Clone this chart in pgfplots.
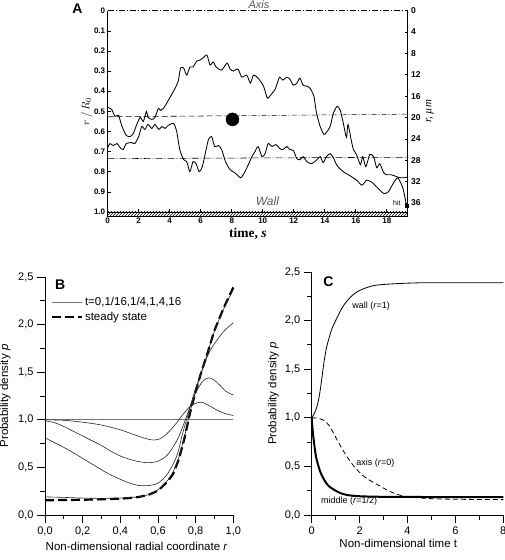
\documentclass[border=0pt]{standalone}
\usepackage{fontspec}
\setmainfont{Liberation Sans}
\newfontfamily\serif{Liberation Serif}
\usepackage{pgfplots}
\pgfplotsset{compat=1.18}
\usetikzlibrary{patterns}
\begin{document}
\begin{tikzpicture}[x=1pt,y=1pt]
\useasboundingbox (0,0) rectangle (505,560);
% ---------------- Panel A ----------------
\begin{axis}[
  at={(107.7pt,348pt)}, anchor=south west,
  scale only axis, width=300pt, height=201.3pt,
  xmin=0, xmax=19.35, ymin=0, ymax=1, y dir=reverse,
  clip=false,
  axis line style={draw=none},
  xtick pos=left, ytick pos=left,
  tick align=inside, major tick length=3pt,
  tick style={black, line width=0.6pt},
  xtick={0,2,4,6,8,10,12,14,16,18},
  ytick={0,0.1,0.2,0.3,0.4,0.5,0.6,0.7,0.8,0.9,1.0},
  yticklabels={0,0.1,0.2,0.3,0.4,0.5,0.6,0.7,0.8,0.9,1.0},
  tick label style={font=\fontsize{8}{9}\selectfont\bfseries},
  /pgf/number format/assume math mode=true,
  xticklabel style={yshift=-2pt},
  yticklabel style={xshift=1pt},
  ylabel={$r\,/\,R_0$},
  ylabel style={at={(axis description cs:-0.07,0.5)}, anchor=center, font=\fontsize{11}{12}\selectfont},
  xlabel={\serif\bfseries time, \itshape s},
  xlabel style={at={(axis description cs:0.467,-0.108)}, anchor=center, font=\fontsize{13.5}{14}\selectfont},
]
% frame
\draw[line width=0.8pt] (axis cs:0,0) -- (axis cs:0,1);
\draw[line width=0.7pt, pattern=north east lines] (axis cs:0,1) rectangle (axis cs:19.35,1.02);
% reference lines
\addplot[black, line width=0.5pt, dash pattern=on 6pt off 2pt on 1pt off 2pt] coordinates {(0,0) (19.35,0)};
\addplot[black, line width=0.55pt, dash pattern=on 6pt off 3pt] coordinates {(0,0.527) (8.0,0.522)};
\addplot[black, line width=0.5pt, dash pattern=on 5pt off 2pt on 1pt off 2pt] coordinates {(8.0,0.522) (19.35,0.514)};
\addplot[black, line width=0.55pt, dash pattern=on 7pt off 2pt on 1pt off 2pt] coordinates {(0,0.735) (19.35,0.728)};
% trace 1
\addplot[black, line width=0.85pt, smooth, tension=0.4] coordinates {
(0,0.48)(0.25,0.49)(0.47,0.525)(0.7,0.52)(0.9,0.57)(1.2,0.62)(1.45,0.625)(1.65,0.61)(1.9,0.56)(2.1,0.53)(2.3,0.55)(2.5,0.50)(2.6,0.53)(2.85,0.54)(3.05,0.53)(3.27,0.485)(3.4,0.495)(3.6,0.485)(3.8,0.46)(4.1,0.42)(4.35,0.385)(4.55,0.35)(4.7,0.285)(4.9,0.285)(5.1,0.32)(5.3,0.28)(5.5,0.28)(5.75,0.25)(5.95,0.245)(6.15,0.235)(6.4,0.22)(6.6,0.27)(6.8,0.255)(7.0,0.28)(7.35,0.295)(7.7,0.26)(7.9,0.29)(8.1,0.30)(8.4,0.29)(8.65,0.33)(8.97,0.32)(9.2,0.36)(9.4,0.32)(9.7,0.335)(10.05,0.375)(10.3,0.435)(10.5,0.42)(10.8,0.39)(11.0,0.345)(11.1,0.33)(11.3,0.345)(11.55,0.33)(11.75,0.34)(11.98,0.37)(12.2,0.36)(12.4,0.335)(12.6,0.37)(12.85,0.375)(13.05,0.385)(13.3,0.425)(13.45,0.50)(13.7,0.575)(13.95,0.615)(14.1,0.605)(14.35,0.575)(14.55,0.51)(14.8,0.475)(15.0,0.495)(15.2,0.56)(15.4,0.63)(15.5,0.565)(15.7,0.64)(15.85,0.69)(16.05,0.715)(16.3,0.765)(16.45,0.725)(16.65,0.775)(16.9,0.715)(17.15,0.725)(17.35,0.78)(17.55,0.76)(17.8,0.805)(18.0,0.815)(18.3,0.815)(18.65,0.825)(18.9,0.83)(19.1,0.83)(19.35,0.826)};
% trace 2
\addplot[black, line width=0.85pt, smooth, tension=0.4] coordinates {
(0,0.68)(0.15,0.66)(0.35,0.67)(0.6,0.66)(0.8,0.68)(1.0,0.69)(1.2,0.66)(1.55,0.655)(1.75,0.66)(2.0,0.625)(2.2,0.575)(2.4,0.59)(2.6,0.565)(2.85,0.585)(3.05,0.565)(3.3,0.59)(3.5,0.575)(3.7,0.585)(3.9,0.57)(4.25,0.56)(4.45,0.60)(4.65,0.69)(4.9,0.74)(5.1,0.75)(5.3,0.80)(5.5,0.75)(5.7,0.76)(5.9,0.80)(6.1,0.775)(6.35,0.69)(6.5,0.64)(6.7,0.625)(6.9,0.675)(7.15,0.67)(7.35,0.69)(7.6,0.75)(7.9,0.79)(8.2,0.805)(8.55,0.83)(8.7,0.82)(8.85,0.80)(9.1,0.76)(9.3,0.725)(9.5,0.70)(9.7,0.675)(9.95,0.725)(10.15,0.71)(10.35,0.66)(10.6,0.675)(10.85,0.665)(11.1,0.685)(11.3,0.69)(11.55,0.675)(11.75,0.69)(11.98,0.695)(12.2,0.735)(12.4,0.74)(12.6,0.725)(12.85,0.75)(13.15,0.76)(13.5,0.74)(13.7,0.725)(13.9,0.755)(14.1,0.725)(14.35,0.71)(14.55,0.73)(14.8,0.77)(15.2,0.80)(15.63,0.82)(16.06,0.842)(16.4,0.867)(16.7,0.842)(17.0,0.85)(17.35,0.875)(17.8,0.908)(18.1,0.90)(18.4,0.86)(18.7,0.83)(18.97,0.867)(19.1,0.9)(19.25,0.958)};
% particle
\addplot[only marks, mark=*, mark size=6.5pt, black] coordinates {(8.05,0.54)};
\addplot[only marks, mark=square*, mark size=1.5pt, black] coordinates {(19.28,0.968)};
\node[font=\fontsize{7}{8}\selectfont] at (axis cs:18.65,0.955) {hit};
\node[font=\fontsize{11}{12}\selectfont\itshape, text=black!65] at (axis cs:9.76,-0.03) {Axis};
\node[font=\fontsize{12}{13}\selectfont\itshape, text=black!65] at (axis cs:10.3,0.945) {Wall};
\node[font=\fontsize{14}{15}\selectfont\bfseries] at (axis cs:-1.95,-0.01) {A};
\end{axis}
\begin{axis}[
  at={(107.7pt,348pt)}, anchor=south west,
  scale only axis, width=300pt, height=201.3pt,
  xmin=0, xmax=19.35, ymin=0, ymax=37.7, y dir=reverse,
  axis x line=none, axis y line*=right,
  axis line style={-, line width=0.8pt},
  tick align=inside, major tick length=3pt,
  tick style={black, line width=0.6pt},
  ytick={0,4,8,12,16,20,24,28,32,36},
  tick label style={font=\fontsize{8.5}{9}\selectfont\bfseries},
  /pgf/number format/assume math mode=true,
  ylabel={\serif\itshape r, µm},
  ylabel style={at={(axis description cs:1.074,0.5)}, anchor=center, rotate=0, font=\fontsize{11}{12}\selectfont},
]
\addplot[draw=none] coordinates {(0,0)};
\end{axis}
% ---------------- Panel B ----------------
\begin{axis}[
  at={(45pt,45pt)}, anchor=south west,
  scale only axis, width=188.3pt, height=238pt,
  xmin=0, xmax=1, ymin=0, ymax=2.5,
  clip=false,
  axis x line=bottom, axis y line=left,
  axis line style={-, line width=0.9pt},
  tick align=outside, major tick length=8pt, minor tick length=4.5pt,
  tick style={black, line width=0.9pt},
  xtick={0,0.2,0.4,0.6,0.8,1.0}, minor x tick num=1,
  ytick={0,0.5,1.0,1.5,2.0,2.5}, minor y tick num=1,
  /pgf/number format/.cd, use comma, fixed, fixed zerofill, precision=1, assume math mode=true,
  /pgfplots/.cd,
  tick label style={font=\fontsize{11}{12}\selectfont},
  ylabel={Probability density \textit{p}},
  ylabel style={at={(axis description cs:-0.212,0.5)}, anchor=center, font=\fontsize{11.5}{12}\selectfont},
  xlabel={Non-dimensional radial coordinate \textit{r}},
  xlabel style={at={(axis description cs:0.487,-0.133)}, anchor=center, font=\fontsize{11.5}{12}\selectfont},
  legend style={at={(axis description cs:0.03,0.925)}, anchor=north west, draw=none, fill=none,
    font=\fontsize{11.5}{13}\selectfont, inner sep=0pt, row sep=1pt},
  legend cell align=left,
  legend image code/.code={\draw[#1] (0pt,0pt) -- (30pt,0pt);},
]
\addplot[black!55, line width=0.7pt] coordinates {(0,1) (1,1)};
\addlegendentry{t=0,1/16,1/4,1,4,16}
\addplot[black, line width=2.2pt, dash pattern=on 9pt off 4pt] coordinates {
(0,0.155)(0.1,0.157)(0.2,0.16)(0.3,0.165)(0.4,0.172)(0.45,0.178)(0.5,0.19)(0.55,0.212)(0.6,0.255)(0.65,0.35)(0.68,0.43)(0.71,0.58)(0.74,0.8)(0.77,1.07)(0.8,1.3)(0.83,1.5)(0.86,1.68)(0.9,1.94)(0.95,2.18)(1.0,2.39)};
\addlegendentry{steady state}
\addplot[black!85, line width=0.6pt, smooth, forget plot] coordinates {
(0,1.0)(0.1,0.995)(0.2,0.975)(0.3,0.945)(0.4,0.895)(0.45,0.86)(0.5,0.825)(0.55,0.795)(0.58,0.788)(0.61,0.80)(0.64,0.84)(0.67,0.90)(0.7,0.97)(0.73,1.05)(0.76,1.12)(0.78,1.155)(0.81,1.18)(0.83,1.185)(0.85,1.17)(0.88,1.14)(0.91,1.105)(0.95,1.07)(1.0,1.045)};
\addplot[black!85, line width=0.6pt, smooth, forget plot] coordinates {
(0,0.99)(0.05,0.97)(0.1,0.93)(0.15,0.88)(0.2,0.83)(0.25,0.78)(0.3,0.73)(0.35,0.67)(0.4,0.62)(0.45,0.585)(0.5,0.56)(0.55,0.55)(0.6,0.565)(0.65,0.63)(0.7,0.78)(0.73,0.92)(0.76,1.08)(0.78,1.19)(0.81,1.32)(0.84,1.41)(0.87,1.44)(0.9,1.415)(0.93,1.36)(0.96,1.3)(1.0,1.26)};
\addplot[black!85, line width=0.6pt, smooth, forget plot] coordinates {
(0,0.81)(0.05,0.76)(0.1,0.71)(0.15,0.655)(0.2,0.595)(0.25,0.535)(0.3,0.475)(0.35,0.42)(0.4,0.375)(0.45,0.335)(0.5,0.31)(0.55,0.31)(0.6,0.335)(0.65,0.43)(0.7,0.62)(0.73,0.85)(0.76,1.06)(0.78,1.2)(0.8,1.33)(0.84,1.55)(0.87,1.7)(0.9,1.8)(0.95,1.93)(1.0,2.02)};
\addplot[black!85, line width=0.6pt, smooth, forget plot] coordinates {
(0,0.19)(0.1,0.185)(0.2,0.178)(0.3,0.175)(0.4,0.178)(0.45,0.185)(0.5,0.19)(0.55,0.215)(0.6,0.265)(0.65,0.36)(0.68,0.45)(0.71,0.6)(0.74,0.82)(0.77,1.08)(0.8,1.3)(0.83,1.5)(0.86,1.68)(0.9,1.93)(0.95,2.17)(1.0,2.37)};
\node[font=\fontsize{14}{15}\selectfont\bfseries] at (axis cs:0.08,2.42) {B};
\end{axis}
% ---------------- Panel C ----------------
\begin{axis}[
  at={(311.7pt,45pt)}, anchor=south west,
  scale only axis, width=191.6pt, height=243pt,
  xmin=0, xmax=8, ymin=0, ymax=2.5,
  clip=false,
  axis x line=bottom, axis y line=left,
  axis line style={-, line width=0.9pt},
  tick align=outside, major tick length=8pt, minor tick length=4.5pt,
  tick style={black, line width=0.9pt},
  xtick={0,2,4,6,8}, minor x tick num=1,
  ytick={0,0.5,1.0,1.5,2.0,2.5}, minor y tick num=1,
  yticklabel style={/pgf/number format/.cd, use comma, fixed, fixed zerofill, precision=1},
  /pgf/number format/assume math mode=true,
  tick label style={font=\fontsize{11}{12}\selectfont},
  ylabel={Probability density \textit{p}},
  ylabel style={at={(axis description cs:-0.2,0.5)}, anchor=center, font=\fontsize{11.5}{12}\selectfont},
  xlabel={Non-dimensional time t},
  xlabel style={at={(axis description cs:0.452,-0.115)}, anchor=center, font=\fontsize{11.5}{12}\selectfont},
]
\addplot[black, line width=0.8pt, smooth] coordinates {
(0,1.0)(0.1,1.04)(0.2,1.1)(0.3,1.2)(0.4,1.36)(0.5,1.55)(0.6,1.7)(0.7,1.8)(0.85,1.92)(1.0,2.0)(1.2,2.1)(1.4,2.18)(1.7,2.26)(2.0,2.31)(2.5,2.355)(3.0,2.372)(4.0,2.385)(5.0,2.39)(8.0,2.39)};
\addplot[black, line width=0.8pt, dash pattern=on 5pt off 3pt, smooth] coordinates {
(0,1.0)(0.3,0.995)(0.5,0.975)(0.75,0.915)(1.0,0.8)(1.25,0.69)(1.5,0.59)(1.8,0.49)(2.1,0.415)(2.4,0.36)(2.8,0.305)(3.2,0.25)(3.6,0.21)(4.1,0.185)(5.0,0.168)(6.0,0.162)(8.0,0.158)};
\addplot[black, line width=2pt, smooth] coordinates {
(0,1.0)(0.03,0.9)(0.07,0.8)(0.12,0.7)(0.18,0.6)(0.25,0.53)(0.35,0.45)(0.46,0.39)(0.6,0.33)(0.75,0.29)(1.0,0.25)(1.2,0.225)(1.5,0.205)(2.0,0.193)(3.0,0.187)(5.0,0.185)(8.0,0.185)};
\node[font=\fontsize{9}{10}\selectfont] at (axis cs:2.48,2.15) {wall (\textit{r}=1)};
\node[font=\fontsize{9}{10}\selectfont] at (axis cs:2.66,0.535) {axis (\textit{r}=0)};
\node[font=\fontsize{9}{10}\selectfont] at (axis cs:1.56,0.147) {middle (\textit{r}=1/2)};
\node[font=\fontsize{14}{15}\selectfont\bfseries] at (axis cs:0.7,2.4) {C};
\end{axis}
\end{tikzpicture}
\end{document}
